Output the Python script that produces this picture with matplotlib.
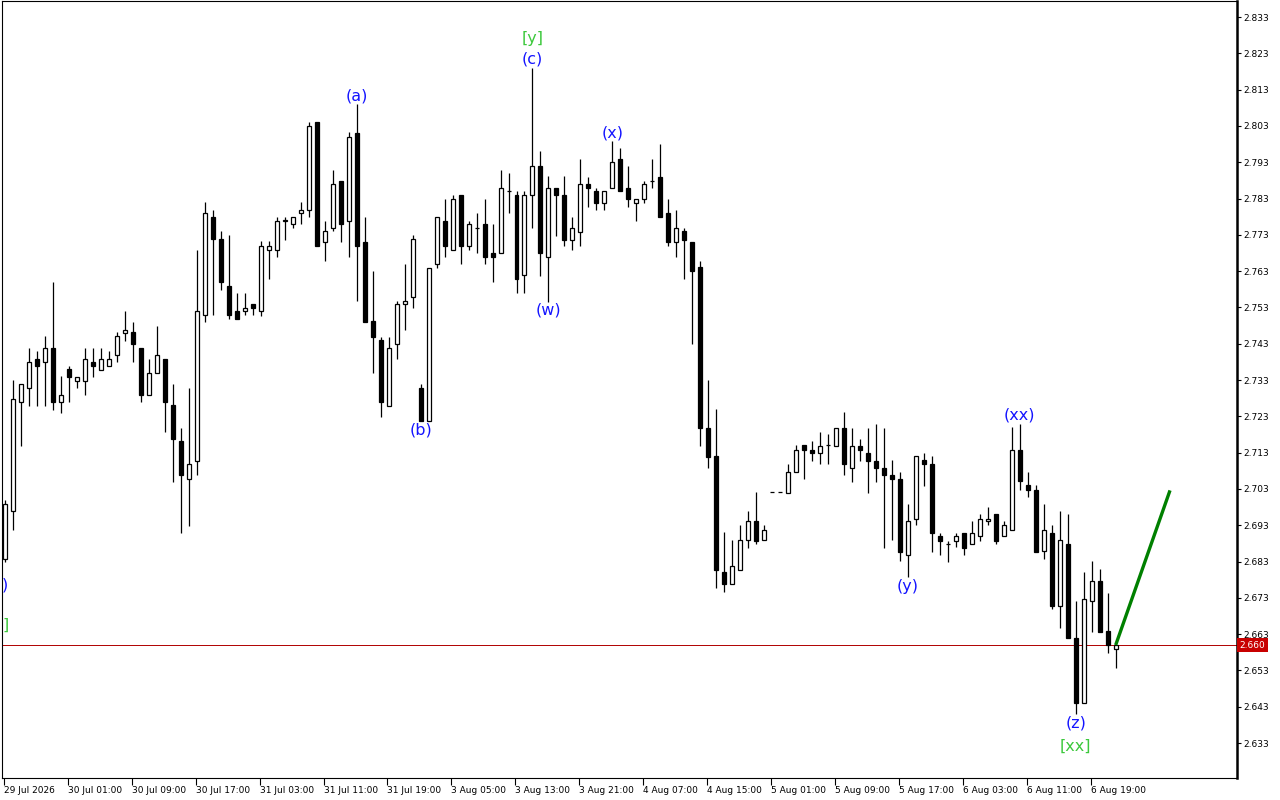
import matplotlib
matplotlib.use("Agg")
import matplotlib.pyplot as plt
import matplotlib.transforms as mtransforms

# hourly OHLC (candle index 0 = first bar on the left)
opens = [2.6838, 2.6968, 2.7269, 2.7309, 2.7388, 2.7381, 2.7419, 2.7269, 2.7359, 2.7328,
         2.7328, 2.7381, 2.7358, 2.7368, 2.7399, 2.7460, 2.7461, 2.7419, 2.7289, 2.7350,
         2.7388, 2.7260, 2.7161, 2.7058, 2.7108, 2.7509, 2.7780, 2.7718, 2.7589, 2.7521,
         2.7521, 2.7540, 2.7519, 2.7688, 2.7688, 2.7769, 2.7760, 2.7790, 2.7799, 2.8041,
         2.7709, 2.7750, 2.7879, 2.7768, 2.8011, 2.7711, 2.7492, 2.7439, 2.7259, 2.7430,
         2.7540, 2.7558, 2.7309, 2.7217, 2.7650, 2.7769, 2.7688, 2.7840, 2.7698, 2.7749,
         2.7760, 2.7680, 2.7680, 2.7851, 2.7840, 2.7619, 2.7840, 2.7919, 2.7668, 2.7859,
         2.7840, 2.7717, 2.7739, 2.7870, 2.7851, 2.7819, 2.7859, 2.7939, 2.7859, 2.7819,
         2.7829, 2.7879, 2.7890, 2.7790, 2.7709, 2.7741, 2.7711, 2.7640, 2.7198, 2.7120,
         2.6800, 2.6769, 2.6808, 2.6888, 2.6941, 2.6888, 2.7021, 2.7021, 2.7020, 2.7078,
         2.7150, 2.7138, 2.7130, 2.7150, 2.7149, 2.7198, 2.7088, 2.7149, 2.7130, 2.7107,
         2.7088, 2.7069, 2.7057, 2.6849, 2.6948, 2.7109, 2.7100, 2.6899, 2.6877, 2.6887,
         2.6909, 2.6879, 2.6899, 2.6941, 2.6960, 2.6899, 2.6918, 2.7138, 2.7040, 2.7028,
         2.6858, 2.6909, 2.6708, 2.6879, 2.6618, 2.6439, 2.6721, 2.6777, 2.6638, 2.6589]
highs = [2.6999, 2.7329, 2.7320, 2.7419, 2.7411, 2.7450, 2.7601, 2.7340, 2.7370, 2.7339,
         2.7419, 2.7419, 2.7419, 2.7411, 2.7461, 2.7521, 2.7491, 2.7419, 2.7388, 2.7480,
         2.7388, 2.7320, 2.7198, 2.7309, 2.7688, 2.7821, 2.7799, 2.7741, 2.7729, 2.7571,
         2.7571, 2.7540, 2.7712, 2.7712, 2.7780, 2.7780, 2.7780, 2.7821, 2.8041, 2.8041,
         2.7769, 2.7909, 2.7879, 2.8012, 2.8090, 2.7780, 2.7631, 2.7448, 2.7448, 2.7549,
         2.7650, 2.7730, 2.7320, 2.7639, 2.7778, 2.7829, 2.7840, 2.7840, 2.7769, 2.7790,
         2.7829, 2.7760, 2.7909, 2.7900, 2.7851, 2.7851, 2.8189, 2.7961, 2.7891, 2.7859,
         2.7891, 2.7780, 2.7939, 2.7890, 2.7859, 2.7851, 2.7989, 2.7970, 2.7919, 2.7829,
         2.7879, 2.7939, 2.7980, 2.7829, 2.7798, 2.7749, 2.7711, 2.7659, 2.7329, 2.7250,
         2.6910, 2.6888, 2.6930, 2.6968, 2.7021, 2.6930, 2.7021, 2.7021, 2.7100, 2.7150,
         2.7150, 2.7161, 2.7188, 2.7182, 2.7198, 2.7241, 2.7198, 2.7168, 2.7198, 2.7210,
         2.7198, 2.7109, 2.7076, 2.6989, 2.7120, 2.7130, 2.7120, 2.6909, 2.6887, 2.6909,
         2.6909, 2.6941, 2.6960, 2.6980, 2.6960, 2.6941, 2.7200, 2.7210, 2.7078, 2.7040,
         2.6989, 2.6930, 2.6968, 2.6960, 2.6721, 2.6800, 2.6831, 2.6809, 2.6742, 2.6600]
lows = [2.6828, 2.6918, 2.7148, 2.7258, 2.7258, 2.7258, 2.7248, 2.7239, 2.7269, 2.7309,
        2.7288, 2.7338, 2.7358, 2.7368, 2.7379, 2.7437, 2.7379, 2.7269, 2.7289, 2.7350,
        2.7186, 2.7049, 2.6909, 2.6928, 2.7069, 2.7489, 2.7509, 2.7578, 2.7498, 2.7498,
        2.7509, 2.7509, 2.7507, 2.7607, 2.7668, 2.7717, 2.7748, 2.7760, 2.7778, 2.7698,
        2.7657, 2.7740, 2.7709, 2.7668, 2.7547, 2.7489, 2.7349, 2.7228, 2.7259, 2.7388,
        2.7468, 2.7529, 2.7217, 2.7217, 2.7639, 2.7668, 2.7688, 2.7650, 2.7688, 2.7679,
        2.7650, 2.7599, 2.7680, 2.7789, 2.7569, 2.7569, 2.7748, 2.7617, 2.7546, 2.7728,
        2.7698, 2.7688, 2.7698, 2.7808, 2.7798, 2.7798, 2.7859, 2.7851, 2.7808, 2.7767,
        2.7819, 2.7859, 2.7778, 2.7698, 2.7668, 2.7608, 2.7430, 2.7149, 2.7088, 2.6758,
        2.6746, 2.6769, 2.6808, 2.6868, 2.6879, 2.6888, 2.7021, 2.7021, 2.7020, 2.7078,
        2.7057, 2.7107, 2.7100, 2.7100, 2.7149, 2.7069, 2.7049, 2.7107, 2.7020, 2.7049,
        2.6868, 2.6888, 2.6831, 2.6788, 2.6930, 2.7038, 2.6856, 2.6847, 2.6829, 2.6870,
        2.6847, 2.6879, 2.6887, 2.6930, 2.6877, 2.6899, 2.6918, 2.7028, 2.7008, 2.6856,
        2.6838, 2.6699, 2.6647, 2.6618, 2.6410, 2.6439, 2.6636, 2.6636, 2.6578, 2.6538]
closes = [2.6989, 2.7278, 2.7320, 2.7381, 2.7368, 2.7419, 2.7269, 2.7289, 2.7338, 2.7339,
          2.7388, 2.7368, 2.7388, 2.7388, 2.7450, 2.7468, 2.7428, 2.7289, 2.7350, 2.7399,
          2.7269, 2.7168, 2.7069, 2.7100, 2.7519, 2.7790, 2.7718, 2.7599, 2.7509, 2.7498,
          2.7529, 2.7529, 2.7700, 2.7700, 2.7769, 2.7770, 2.7780, 2.7799, 2.8030, 2.7698,
          2.7740, 2.7870, 2.7759, 2.8000, 2.7698, 2.7489, 2.7448, 2.7269, 2.7419, 2.7540,
          2.7549, 2.7718, 2.7217, 2.7639, 2.7778, 2.7698, 2.7829, 2.7698, 2.7760, 2.7749,
          2.7668, 2.7668, 2.7859, 2.7850, 2.7608, 2.7840, 2.7919, 2.7680, 2.7859, 2.7840,
          2.7717, 2.7749, 2.7870, 2.7859, 2.7819, 2.7851, 2.7930, 2.7851, 2.7829, 2.7829,
          2.7870, 2.7879, 2.7778, 2.7709, 2.7749, 2.7717, 2.7629, 2.7198, 2.7118, 2.6806,
          2.6769, 2.6819, 2.6888, 2.6941, 2.6887, 2.6918, 2.7021, 2.7021, 2.7078, 2.7138,
          2.7138, 2.7130, 2.7149, 2.7150, 2.7198, 2.7100, 2.7149, 2.7138, 2.7107, 2.7088,
          2.7069, 2.7057, 2.6856, 2.6941, 2.7120, 2.7100, 2.6909, 2.6887, 2.6877, 2.6899,
          2.6868, 2.6909, 2.6948, 2.6948, 2.6887, 2.6930, 2.7138, 2.7051, 2.7028, 2.6856,
          2.6918, 2.6708, 2.6888, 2.6618, 2.6439, 2.6728, 2.6777, 2.6636, 2.6599, 2.6600]

# time axis labels, one every 8 bars
time_labels = ["29 Jul 2026", "30 Jul 01:00", "30 Jul 09:00", "30 Jul 17:00", "31 Jul 03:00",
               "31 Jul 11:00", "31 Jul 19:00", "3 Aug 05:00", "3 Aug 13:00", "3 Aug 21:00",
               "4 Aug 07:00", "4 Aug 15:00", "5 Aug 01:00", "5 Aug 09:00", "5 Aug 17:00",
               "6 Aug 03:00", "6 Aug 11:00", "6 Aug 19:00"]
price_ticks = [2.633, 2.643, 2.653, 2.663, 2.673, 2.683, 2.693, 2.703, 2.713, 2.723, 2.733,
               2.743, 2.753, 2.763, 2.773, 2.783, 2.793, 2.803, 2.813, 2.823, 2.833]

# wave labels: bar index, price, text (the first two only show their closing bracket
# at the left edge of the chart)
wave_text = [")", "]", "(a)", "(b)", "[y]", "(c)", "(w)", "(x)", "(y)", "(xx)", "(z)", "[xx]"]
wave_bar = [-0.38, -0.38, 44, 52, 66, 66, 68, 76, 113, 127, 134, 134]
wave_price = [2.6765, 2.6655, 2.8113, 2.7191, 2.8272, 2.8214, 2.7524, 2.8011, 2.6762, 2.7235,
              2.6385, 2.6322]

bid = 2.660
# projected move drawn from the last bar
proj_bars = [139, 145.8]
proj_prices = [2.6600, 2.7026]

blue = "#1414ff"
green = "#3cc83c"

fig = plt.figure(figsize=(12.8, 8), dpi=100)
ax = fig.add_axes([0.0015, 0.0275, 0.965, 0.9712])
ax.set_facecolor("white")

n = len(opens)
xs = list(range(n))

# wicks first, bodies on top
ax.vlines(xs, lows, highs, color="black", lw=0.9, zorder=2)
for i in xs:
    o, c = opens[i], closes[i]
    face = "white" if c >= o else "black"
    ax.bar(i, c - o, bottom=o, width=0.5, color=face, edgecolor="black",
           linewidth=0.9, zorder=3)

# bid line + price tag
ax.axhline(bid, color="#b00000", lw=0.7, zorder=1)
trans = mtransforms.blended_transform_factory(ax.transAxes, ax.transData)
ax.text(1.002, bid, f"{bid:.3f}", transform=trans, ha="left", va="center",
        fontsize=6.5, color="white", clip_on=False,
        bbox=dict(facecolor="#c80000", edgecolor="none", pad=1.6))

ax.plot(proj_bars, proj_prices, color="#008000", lw=2.4, zorder=4, solid_capstyle="butt")

for t, b, p in zip(wave_text, wave_bar, wave_price):
    col = green if t.startswith("[") or t == "]" else blue
    ha = "left" if len(t) == 1 else "center"
    ax.text(b, p, t, color=col, fontsize=11.5, ha=ha, va="center", zorder=5,
            clip_on=False)

ax.set_xlim(-0.41, 154.2)
ax.set_ylim(2.62337, 2.8374)

ax.yaxis.tick_right()
ax.set_yticks(price_ticks)
ax.set_yticklabels([f"{p:.3f}" for p in price_ticks])
ax.set_xticks([8 * k - 0.15 for k in range(len(time_labels))])
ax.set_xticklabels(time_labels)
for lbl in ax.get_xticklabels():
    lbl.set_ha("left")
ax.tick_params(axis="y", direction="out", length=3, width=0.8, pad=1.5, labelsize=6.5)
ax.tick_params(axis="x", direction="out", length=5, width=0.8, pad=1, labelsize=6.5)

for s in ax.spines.values():
    s.set_linewidth(0.8)
ax.spines["right"].set_linewidth(1.8)

fig.savefig("out.png", dpi=100, facecolor="white")
